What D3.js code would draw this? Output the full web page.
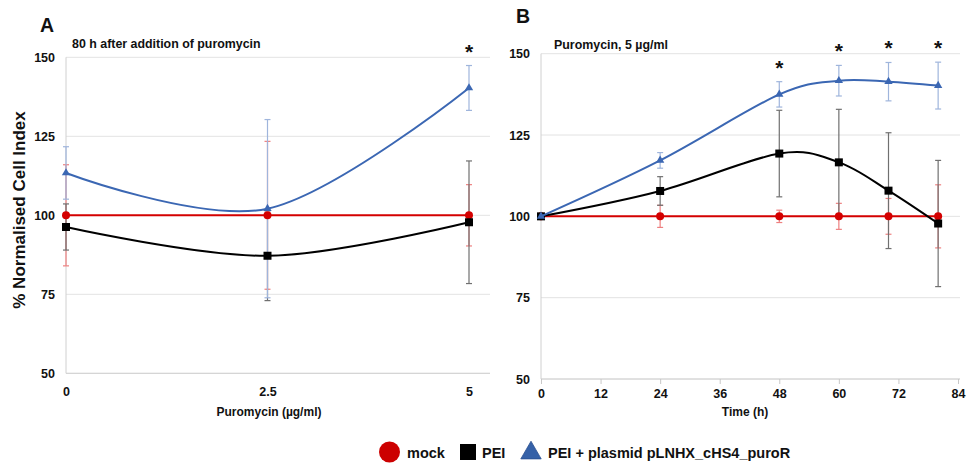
<!DOCTYPE html>
<html>
  <head>
    <meta charset="utf-8">
    <title>Cell Index</title>
    <script src="https://d3js.org/d3.v7.min.js"></script>
    <style>
      body { margin: 0; background: #fff; font-family: "Liberation Sans", Arial, sans-serif; }
      svg text { font-weight: bold; fill: #111; }
    </style>
  </head>
  <body>
    <svg id="chart" width="968" height="464"></svg>
    <script>
      // Panel A: 80 h after puromycin, by dose
      var doseA = [0, 2.5, 5];
      var mockA = [100, 100, 100];
      var mockErrA = [16, 23.4, 9.7];
      var peiA = [96.3, 87.2, 97.8];
      var peiErrA = [7.3, 14.2, 19.4];
      var plasA = [113.4, 102.1, 140.3];
      var plasErrA = [8.3, 28.2, 7.1];
      var starsA = [5];

      // Panel B: 5 ug/ml puromycin, over time
      var timeB = [0, 24, 48, 60, 70, 80];
      var mockB = [100, 100, 100, 100, 100, 100];
      var mockErrB = [0, 3.4, 1.9, 4, 5.5, 9.7];
      var peiB = [100, 107.8, 119.3, 116.6, 107.9, 97.8];
      var peiErrB = [0, 4.4, 13.3, 16.3, 17.8, 19.4];
      var plasB = [100, 117.2, 137.5, 141.7, 141.4, 140.2];
      var plasErrB = [0, 2.4, 3.9, 4.7, 5.9, 7.2];
      var starsB = [48, 60, 70, 80];

      var yTicks = [50, 75, 100, 125, 150];
      var xTicksA = [0, 2.5, 5];
      var xTicksB = [0, 12, 24, 36, 48, 60, 72, 84];

      var RED = "#d40000", BLACK = "#000", BLUE = "#3b67b3";
      var svg = d3.select("#chart");

      function panel(o) {
        var x = d3.scaleLinear().domain(o.xDomain).range(o.xRange);
        var y = d3.scaleLinear().domain([50, 150]).range(o.yRange);
        var g = svg.append("g");

        // gridlines
        g.selectAll(".grid").data(yTicks).enter().append("line")
          .attr("x1", o.xRange[0]).attr("x2", o.gridEnd)
          .attr("y1", function(d) { return y(d); })
          .attr("y2", function(d) { return y(d); })
          .attr("stroke", "#e3e3e3").attr("stroke-width", 1);

        // y axis line
        g.append("line")
          .attr("x1", o.xRange[0]).attr("x2", o.xRange[0])
          .attr("y1", o.yRange[0]).attr("y2", o.yRange[1])
          .attr("stroke", "#d0d0d0");

        // y tick labels
        g.selectAll(".yl").data(yTicks).enter().append("text")
          .attr("x", o.xRange[0] - 11)
          .attr("y", function(d) { return y(d) + 4.5; })
          .attr("text-anchor", "end").attr("font-size", 12.5)
          .text(function(d) { return d; });

        // x axis
        var xa = g.append("g").attr("transform", "translate(0," + o.yRange[0] + ")")
          .call(d3.axisBottom(x).tickValues(o.xTicks).tickSize(o.tickSize)
            .tickPadding(o.tickPad).tickFormat(function(d) { return String(d); }));
        xa.select(".domain").attr("stroke", "#d0d0d0")
          .attr("d", "M" + o.xRange[0] + ",0H" + o.gridEnd);
        xa.selectAll(".tick line").attr("stroke", "#c8c8c8");
        xa.selectAll("text").attr("font-size", 12.5).attr("font-family", "Liberation Sans, Arial")
          .attr("font-weight", "bold").attr("fill", "#111");

        g.append("text").attr("x", o.xTitleX).attr("y", 416)
          .attr("text-anchor", "middle").attr("font-size", 12).text(o.xTitle);

        g.append("text").attr("x", o.subX).attr("y", o.subY)
          .attr("font-size", 12.4).text(o.sub);
        g.append("text").attr("x", o.letterX).attr("y", o.letterY)
          .attr("font-size", 19.5).text(o.letter);

        var xs = o.xs;
        var series = [
          { v: o.mock, e: o.mockErr, c: RED, ec: "#ee8080", m: "circle" },
          { v: o.pei, e: o.peiErr, c: BLACK, ec: "#707070", m: "square" },
          { v: o.plas, e: o.plasErr, c: BLUE, ec: "#9fb5dc", m: "triangle" }
        ];

        // error bars (drawn under lines)
        series.forEach(function(s) {
          var pts = xs.map(function(xv, i) { return { x: xv, v: s.v[i], e: s.e[i] }; })
            .filter(function(d) { return d.e > 0; });
          var eb = g.append("g").attr("stroke", s.ec).attr("stroke-width", 1.2);
          eb.selectAll(".v").data(pts).enter().append("line")
            .attr("x1", function(d) { return x(d.x); }).attr("x2", function(d) { return x(d.x); })
            .attr("y1", function(d) { return y(d.v - d.e); }).attr("y2", function(d) { return y(d.v + d.e); });
          [-1, 1].forEach(function(sg) {
            eb.selectAll(".c" + sg).data(pts).enter().append("line")
              .attr("x1", function(d) { return x(d.x) - 3; }).attr("x2", function(d) { return x(d.x) + 3; })
              .attr("y1", function(d) { return y(d.v + sg * d.e); }).attr("y2", function(d) { return y(d.v + sg * d.e); });
          });
        });

        // lines and markers
        series.forEach(function(s) {
          var pts = xs.map(function(xv, i) { return [xv, s.v[i]]; });
          var line = d3.line()
            .x(function(d) { return x(d[0]); }).y(function(d) { return y(d[1]); })
            .curve(d3.curveCardinal.tension(0));
          g.append("path").datum(pts).attr("d", line)
            .attr("fill", "none").attr("stroke", s.c).attr("stroke-width", 2);
          var mk = g.selectAll(".m" + s.m).data(pts).enter();
          if (s.m === "circle") {
            mk.append("circle").attr("cx", function(d) { return x(d[0]); })
              .attr("cy", function(d) { return y(d[1]); }).attr("r", 4).attr("fill", s.c);
          } else if (s.m === "square") {
            mk.append("rect").attr("x", function(d) { return x(d[0]) - 4; })
              .attr("y", function(d) { return y(d[1]) - 4; }).attr("width", 8).attr("height", 8).attr("fill", s.c);
          } else {
            mk.append("path").attr("d", d3.symbol(d3.symbolTriangle, 30))
              .attr("transform", function(d) { return "translate(" + x(d[0]) + "," + y(d[1]) + ")"; })
              .attr("fill", s.c);
          }
        });

        // significance stars
        g.selectAll(".star").data(o.stars).enter().append("text")
          .attr("x", function(d) { return x(d); })
          .attr("y", function(d) {
            var i = xs.indexOf(d);
            return y(o.plas[i] + o.plasErr[i]) - 18 + 11;
          })
          .attr("text-anchor", "middle").attr("font-size", 21).text("*");
      }

      panel({
        xs: doseA, mock: mockA, mockErr: mockErrA, pei: peiA, peiErr: peiErrA,
        plas: plasA, plasErr: plasErrA, stars: starsA,
        xDomain: [0, 5], xRange: [66, 469], gridEnd: 490, yRange: [373.3, 57.3],
        xTicks: xTicksA, tickSize: 0, tickPad: 13.5, xTitle: "Puromycin (µg/ml)", xTitleX: 269,
        sub: "80 h after addition of puromycin", subX: 72, subY: 48,
        letter: "A", letterX: 40, letterY: 32
      });

      panel({
        xs: timeB, mock: mockB, mockErr: mockErrB, pei: peiB, peiErr: peiErrB,
        plas: plasB, plasErr: plasErrB, stars: starsB,
        xDomain: [0, 84], xRange: [541, 958], gridEnd: 960, yRange: [379, 53.7],
        xTicks: xTicksB, tickSize: 5, tickPad: 5, xTitle: "Time (h)", xTitleX: 745,
        sub: "Puromycin, 5 µg/ml", subX: 554, subY: 49,
        letter: "B", letterX: 516, letterY: 23
      });

      // y axis title
      svg.append("text").attr("transform", "translate(25,210) rotate(-90)")
        .attr("text-anchor", "middle").attr("font-size", 17).text("% Normalised Cell Index");

      // legend
      var legend = [
        { label: "mock", c: "#cc0000", m: "circle", x: 389.5, tx: 407 },
        { label: "PEI", c: "#000", m: "square", x: 468, tx: 482 },
        { label: "PEI + plasmid pLNHX_cHS4_puroR", c: "#3561a8", m: "triangle", x: 531, tx: 548 }
      ];
      var lg = svg.append("g");
      legend.forEach(function(d) {
        var cy = 452;
        if (d.m === "circle") lg.append("circle").attr("cx", d.x).attr("cy", cy).attr("r", 10.5).attr("fill", d.c);
        else if (d.m === "square") lg.append("rect").attr("x", d.x - 8).attr("y", cy - 8).attr("width", 16).attr("height", 16).attr("fill", d.c);
        else lg.append("path").attr("d", d3.symbol(d3.symbolTriangle, 180)).attr("transform", "translate(" + d.x + "," + (cy + 1) + ")").attr("fill", d.c).attr("stroke", "#2a4f8f").attr("stroke-width", 0.8);
        lg.append("text").attr("x", d.tx).attr("y", cy + 5.5)
          .attr("font-size", 14.5).text(d.label);
      });
    </script>
  </body>
</html>
